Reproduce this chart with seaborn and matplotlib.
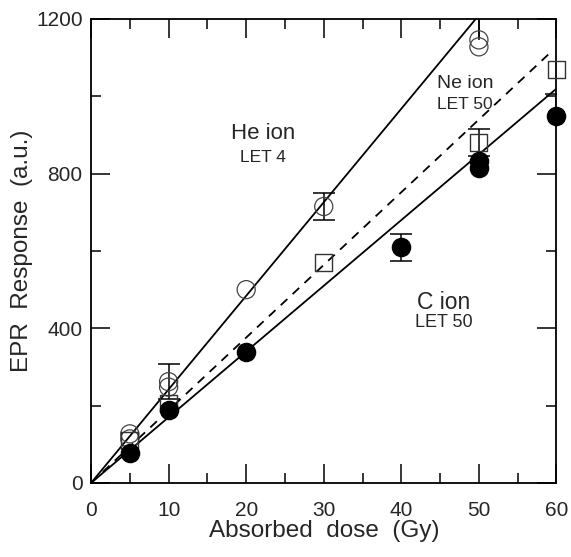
import matplotlib
matplotlib.use("Agg")
import matplotlib.pyplot as plt
import matplotlib.ticker as mticker
import numpy as np
import pandas as pd
import seaborn as sns

# open circles: He ion
he_dose = [5, 5, 10, 10, 20, 30, 50, 50]
he_resp = [127, 114, 262, 248, 500, 715, 1146, 1128]
he_err_lo = [0, 0, 45, 0, 0, 35, 0, 0]
he_err_hi = [0, 0, 45, 0, 0, 35, 70, 0]

# open squares: Ne ion
ne_dose = [5, 10, 30, 50, 60]
ne_resp = [110, 205, 570, 880, 1070]
ne_err_lo = [0, 0, 0, 35, 0]
ne_err_hi = [0, 0, 0, 35, 0]

# filled circles: C ion
c_dose = [5, 10, 20, 40, 50, 50, 60]
c_resp = [78, 188, 338, 610, 833, 815, 950]
c_err_lo = [0, 0, 0, 35, 0, 0, 0]
c_err_hi = [0, 0, 0, 35, 0, 0, 55]

# slopes of the fitted lines through the origin
he_slope = 24.2
ne_slope = 18.8
c_slope = 17.0

sns.set_style("ticks")
plt.rcParams['font.family'] = ['Liberation Sans', 'DejaVu Sans']

fig, ax = plt.subplots(figsize=(5.71, 5.57), dpi=100)
fig.subplots_adjust(left=0.1594, right=0.9746, bottom=0.1329, top=0.9659)

line_x = np.array([0, 60])
sns.lineplot(x=line_x, y=he_slope * line_x, color="black", lw=1.3, ax=ax)
sns.lineplot(x=np.array([0, 59.5]), y=ne_slope * np.array([0, 59.5]), color="black",
             lw=1.3, ax=ax, linestyle=(0, (5, 4)))
sns.lineplot(x=line_x, y=c_slope * line_x, color="black", lw=1.3, ax=ax)

he = pd.DataFrame({"dose": he_dose, "resp": he_resp, "lo": he_err_lo, "hi": he_err_hi})
ne = pd.DataFrame({"dose": ne_dose, "resp": ne_resp, "lo": ne_err_lo, "hi": ne_err_hi})
c = pd.DataFrame({"dose": c_dose, "resp": c_resp, "lo": c_err_lo, "hi": c_err_hi})

for df in (he, ne, c):
    both = df[df.lo > 0]
    if len(both):
        ax.errorbar(both.dose, both.resp, yerr=[both.lo, both.hi], fmt="none", ecolor="black",
                    elinewidth=1.1, capsize=8, capthick=1.1)
    # upper-only bars: hide the cap that sits at the point itself
    up = df[(df.lo == 0) & (df.hi > 0)]
    if len(up):
        _, caps, _ = ax.errorbar(up.dose, up.resp, yerr=[up.lo, up.hi], fmt="none",
                                 ecolor="black", elinewidth=1.1, capsize=8, capthick=1.1)
        caps[0].set_visible(False)

sns.scatterplot(data=he, x="dose", y="resp", marker="o", s=170, facecolor="none",
                edgecolor="#444444", linewidth=0.9, ax=ax, clip_on=False, zorder=4)
sns.scatterplot(data=ne, x="dose", y="resp", marker="s", s=150, facecolor="none",
                edgecolor="#333333", linewidth=1.0, ax=ax, clip_on=False, zorder=4)
sns.scatterplot(data=c, x="dose", y="resp", marker="o", s=170, color="black",
                edgecolor="black", ax=ax, clip_on=False, zorder=5)

ax.set_xlim(0, 60)
ax.set_ylim(0, 1200)
ax.xaxis.set_major_locator(mticker.MultipleLocator(10))
ax.xaxis.set_minor_locator(mticker.MultipleLocator(5))
ax.yaxis.set_major_locator(mticker.MultipleLocator(400))
ax.yaxis.set_minor_locator(mticker.MultipleLocator(200))
ax.tick_params(which="both", direction="in", top=True, right=True, width=1.1, color="black")
ax.tick_params(which="major", length=14)
ax.tick_params(which="minor", length=7)
ax.tick_params(axis="x", which="major", labelsize=15, pad=13)
ax.tick_params(axis="y", which="major", labelsize=15, pad=6)
for sp in ax.spines.values():
    sp.set_linewidth(1.3)
    sp.set_color("black")

ax.set_xlabel("Absorbed  dose  (Gy)", fontsize=17.5, labelpad=0)
ax.set_ylabel("EPR  Response  (a.u.)", fontsize=17.5, labelpad=2)

ax.text(22.2, 905, "He ion", fontsize=16, ha="center", va="center")
ax.text(22.2, 843, "LET 4", fontsize=12.5, ha="center", va="center")
ax.text(48.2, 1034, "Ne ion", fontsize=14, ha="center", va="center")
ax.text(48.2, 980, "LET 50", fontsize=12.5, ha="center", va="center")
ax.text(45.5, 468, "C ion", fontsize=16.5, ha="center", va="center")
ax.text(45.5, 414, "LET 50", fontsize=13, ha="center", va="center")

fig.savefig("out.png", dpi=100)
